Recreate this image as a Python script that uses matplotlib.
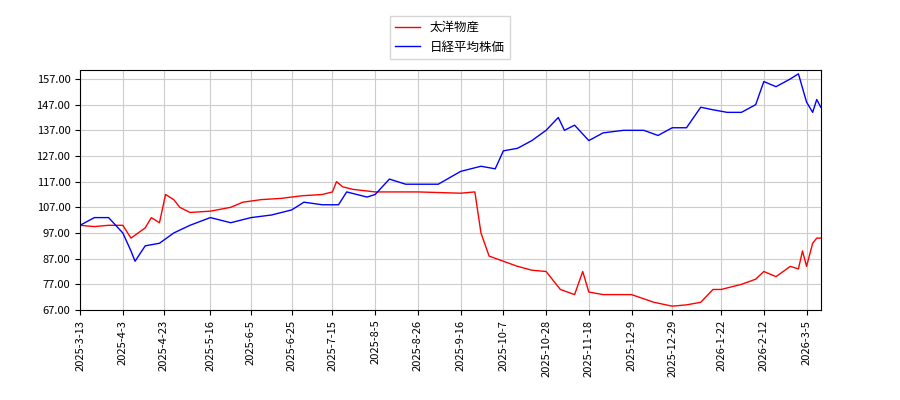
import matplotlib
matplotlib.use("Agg")
import matplotlib.pyplot as plt
import matplotlib.dates as mdates
import pandas as pd

plt.rcParams['font.family'] = ['Noto Sans CJK JP', 'DejaVu Sans']

red_dates = ["2025-03-13","2025-03-20","2025-03-27","2025-04-03","2025-04-07","2025-04-14","2025-04-17","2025-04-21","2025-04-24","2025-04-28","2025-05-01","2025-05-06","2025-05-16","2025-05-26","2025-06-01","2025-06-10","2025-06-20","2025-06-30","2025-07-10","2025-07-15","2025-07-17","2025-07-20","2025-07-25","2025-08-05","2025-08-26","2025-09-16","2025-09-23","2025-09-26","2025-09-30","2025-10-07","2025-10-14","2025-10-21","2025-10-28","2025-11-04","2025-11-11","2025-11-15","2025-11-18","2025-11-25","2025-12-09","2025-12-20","2025-12-29","2026-01-05","2026-01-12","2026-01-18","2026-01-22","2026-02-01","2026-02-08","2026-02-12","2026-02-18","2026-02-25","2026-03-01","2026-03-03","2026-03-05","2026-03-08","2026-03-10","2026-03-12"]
red_vals = [100,99.5,100,100,95,99,103,101,112,110,107,105,105.5,107,109,110,110.5,111.5,112,113,117,115,114,113,113,112.5,113,97,88,86,84,82.5,82,75,73,82,74,73,73,70,68.5,69,70,75,75,77,79,82,80,84,83,90,84,93,95,95]

blue_dates = ["2025-03-13","2025-03-20","2025-03-27","2025-04-03","2025-04-07","2025-04-09","2025-04-14","2025-04-21","2025-04-28","2025-05-06","2025-05-16","2025-05-26","2025-06-05","2025-06-15","2025-06-25","2025-07-01","2025-07-10","2025-07-18","2025-07-22","2025-08-01","2025-08-05","2025-08-12","2025-08-20","2025-08-26","2025-09-05","2025-09-16","2025-09-26","2025-10-03","2025-10-07","2025-10-14","2025-10-21","2025-10-28","2025-11-03","2025-11-06","2025-11-11","2025-11-18","2025-11-25","2025-12-05","2025-12-15","2025-12-22","2025-12-29","2026-01-05","2026-01-12","2026-01-18","2026-01-25","2026-02-01","2026-02-08","2026-02-12","2026-02-18","2026-02-25","2026-03-01","2026-03-05","2026-03-08","2026-03-10","2026-03-12"]
blue_vals = [100,103,103,97,90,86,92,93,97,100,103,101,103,104,106,109,108,108,113,111,112,118,116,116,116,121,123,122,129,130,133,137,142,137,139,133,136,137,137,135,138,138,146,145,144,144,147,156,154,157,159,148,144,149,146]

tick_labels = ["2025-3-13","2025-4-3","2025-4-23","2025-5-16","2025-6-5","2025-6-25","2025-7-15","2025-8-5","2025-8-26","2025-9-16","2025-10-7","2025-10-28","2025-11-18","2025-12-9","2025-12-29","2026-1-22","2026-2-12","2026-3-5"]
y_ticks = [67,77,87,97,107,117,127,137,147,157]

fig = plt.figure(figsize=(9,4), dpi=100)
ax = fig.add_axes([0.089, 0.225, 0.823, 0.6])
ax.plot(pd.to_datetime(red_dates), red_vals, color='red', lw=1, label='太洋物産')
ax.plot(pd.to_datetime(blue_dates), blue_vals, color='blue', lw=1, label='日経平均株価')
ax.set_xticks(pd.to_datetime(tick_labels))
ax.set_xticklabels(tick_labels, rotation=90, fontsize=8)
ax.set_yticks(y_ticks)
ax.set_yticklabels([f"{v:.2f}" for v in y_ticks], fontsize=8)
ax.set_ylim(67, 160.5)
ax.set_xlim(pd.Timestamp("2025-03-13"), pd.Timestamp("2026-03-12"))
ax.grid(True, color='#cccccc', lw=0.8)
fig.legend(loc='upper center', bbox_to_anchor=(0.5, 0.975), fontsize=9, fancybox=False)
fig.savefig("out.png")
